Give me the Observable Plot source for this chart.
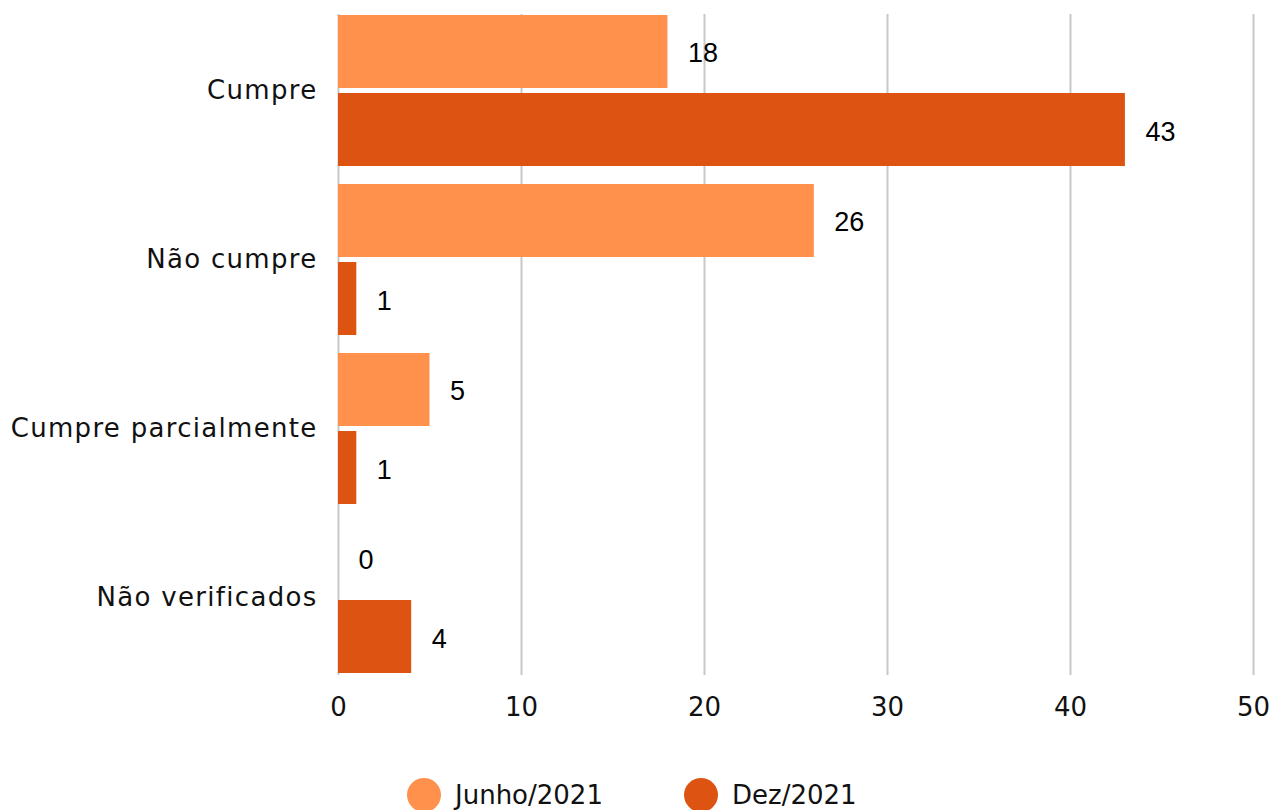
<!DOCTYPE html>
<html>
<head>
<meta charset="utf-8">
<script src="https://cdn.jsdelivr.net/npm/d3@7"></script>
<script src="https://cdn.jsdelivr.net/npm/@observablehq/plot@0.6"></script>
<style>
  html, body { margin: 0; padding: 0; background: #fff; }
  #chart { width: 1271px; }
  .legend { position: relative; height: 70px; font-family: "DejaVu Sans", sans-serif; font-size: 26px; color: #111; }
  .legend .item { position: absolute; top: 38px; display: flex; align-items: center; }
  .legend .dot { width: 34px; height: 34px; border-radius: 50%; margin-right: 14px; }
</style>
</head>
<body>
<div id="chart"></div>
<script>
const categories = ["Cumpre", "Não cumpre", "Cumpre parcialmente", "Não verificados"];
const junho = [18, 26, 5, 0];
const dez = [43, 1, 1, 4];
const seriesNames = ["Junho/2021", "Dez/2021"];
const seriesColors = ["#FF914D", "#DD5311"];
const xTicks = [0, 10, 20, 30, 40, 50];

const table = categories.map((c, i) => ({cat: c, junho: junho[i], dez: dez[i]}));

const plot = Plot.plot({
  width: 1271,
  height: 740,
  marginLeft: 338,
  marginRight: 18,
  marginTop: 14,
  marginBottom: 65,
  style: {fontFamily: "DejaVu Sans, sans-serif", fontSize: "26px", color: "#111", background: "#fff"},
  x: {domain: [0, 50], ticks: xTicks, tickSize: 0, tickPadding: 22, label: null},
  y: {domain: categories, paddingInner: 0.105, paddingOuter: 0, tickSize: 0, tickPadding: 21, label: null},
  marks: [
    Plot.ruleX(xTicks, {stroke: "#c8c8c8", strokeWidth: 2}),
    Plot.barX(table, {x: "junho", y: "cat", fill: seriesColors[0], insetBottom: 78}),
    Plot.barX(table, {x: "dez", y: "cat", fill: seriesColors[1], insetTop: 78}),
    Plot.text(table, {x: "junho", y: "cat", text: d => String(d.junho), dx: 20, dy: -38, textAnchor: "start",
      fontFamily: "Liberation Sans, Arial, sans-serif", fontSize: 27, fill: "#000"}),
    Plot.text(table, {x: "dez", y: "cat", text: d => String(d.dez), dx: 20, dy: 41, textAnchor: "start",
      fontFamily: "Liberation Sans, Arial, sans-serif", fontSize: 27, fill: "#000"})
  ]
});
d3.select(plot).selectAll('g[aria-label="y-axis tick label"] text').style("letter-spacing", "1.3px");
document.getElementById("chart").appendChild(plot);

const legend = document.createElement("div");
legend.className = "legend";
const legendX = [407, 684];
seriesNames.forEach((name, i) => {
  const item = document.createElement("div");
  item.className = "item";
  item.style.left = legendX[i] + "px";
  const dot = document.createElement("span");
  dot.className = "dot";
  dot.style.background = seriesColors[i];
  const label = document.createElement("span");
  label.textContent = name;
  item.appendChild(dot);
  item.appendChild(label);
  legend.appendChild(item);
});
document.getElementById("chart").appendChild(legend);
</script>
</body>
</html>
